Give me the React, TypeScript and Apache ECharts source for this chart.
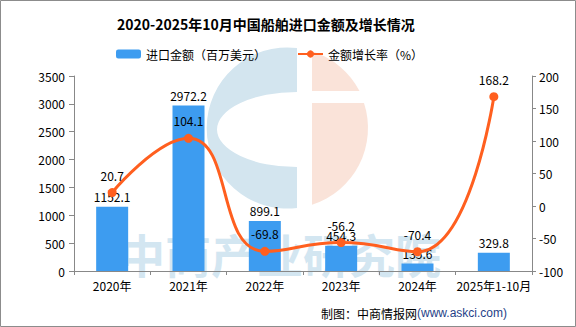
import React, { useEffect, useRef } from "react";
import * as echarts from "echarts";

const categories = ["2020年", "2021年", "2022年", "2023年", "2024年", "2025年1-10月"];
const importValues = [1152.1, 2972.2, 899.1, 454.3, 135.6, 329.8];
const growthRates = [20.7, 104.1, -69.8, -56.2, -70.4, 168.2];

const FONT = "'Noto Sans CJK SC', 'Noto Sans', sans-serif";

echarts.graphic.registerShape(
  "logoBlue",
  echarts.graphic.extendPath(
    "M 297 48.1 A 80.5 80.5 0 1 0 297 207.9 L 297 167 A 80 37.5 0 0 1 297 92 Z",
    {}
  )
);
echarts.graphic.registerShape(
  "logoPeach",
  echarts.graphic.extendPath(
    "M 312 51.3 A 80.5 80.5 0 0 1 359.5 91 L 312 91 Z M 312 103 L 364 103 A 80.5 80.5 0 0 1 312 204.7 Z",
    {}
  )
);

export default function App() {
  const ref = useRef<HTMLDivElement>(null);
  useEffect(() => {
    document.body.style.margin = "0";
    const chart = echarts.init(ref.current!, null, { renderer: "svg" });
    chart.setOption({
      animation: false,
      backgroundColor: "#ffffff",
      textStyle: { fontFamily: FONT },
      title: {
        text: "2020-2025年10月中国船舶进口金额及增长情况",
        left: 112,
        top: 12,
        textStyle: { fontSize: 14, fontWeight: "bold", color: "#000", fontFamily: FONT },
      },
      legend: {
        left: 111,
        top: 43,
        itemWidth: 25,
        itemHeight: 9,
        itemGap: 31,
        textStyle: { fontSize: 12, color: "#000", fontFamily: FONT },
        data: ["进口金额（百万美元）", "金额增长率（%）"],
      },
      graphic: [
        { type: "logoBlue", x: 0, y: 0, z: -10, silent: true, style: { fill: "#d3e5ef" } },
        { type: "logoPeach", x: 0, y: 0, z: -10, silent: true, style: { fill: "#fae3d9" } },
        {
          type: "text",
          x: 119,
          y: 253,
          z: -10,
          silent: true,
          style: {
            text: "中商产业研究院",
            fontSize: 46,
            fontWeight: "bold",
            fontFamily: FONT,
            fill: "#d3e6f1",
            verticalAlign: "middle",
            align: "left",
          },
        },
        {
          type: "text",
          x: 507,
          y: 313,
          style: {
            text: "{a|制图：中商情报网}{b|(www.askci.com)}",
            align: "right",
            verticalAlign: "middle",
            rich: {
              a: { fontSize: 12, fill: "#000", fontFamily: FONT },
              b: { fontSize: 12, fill: "#1f3f88", fontFamily: "'Liberation Sans', sans-serif" },
            },
          },
        },
        {
          type: "rect",
          shape: { x: 0.5, y: 0.5, width: 575, height: 326 },
          style: { fill: "none", stroke: "#8c8c8c", lineWidth: 1 },
          silent: true,
        },
      ],
      grid: { left: 74, right: 44, top: 76, bottom: 56 },
      xAxis: {
        type: "category",
        data: categories,
        boundaryGap: true,
        axisLine: { lineStyle: { color: "#888" } },
        axisTick: { show: true, length: 4, lineStyle: { color: "#888" } },
        axisLabel: { color: "#000", fontSize: 12, margin: 8, interval: 0 },
      },
      yAxis: [
        {
          type: "value",
          min: 0,
          max: 3500,
          interval: 500,
          splitLine: { show: false },
          axisLine: { show: true, lineStyle: { color: "#888" } },
          axisTick: { show: true, length: 5, lineStyle: { color: "#888" } },
          axisLabel: { color: "#000", fontSize: 12, margin: 9, formatter: (v: number) => String(v) },
        },
        {
          type: "value",
          min: -100,
          max: 200,
          interval: 50,
          splitLine: { show: false },
          axisLine: { show: true, lineStyle: { color: "#888" } },
          axisTick: { show: true, length: 4, lineStyle: { color: "#888" } },
          axisLabel: { color: "#000", fontSize: 12, margin: 7, formatter: (v: number) => String(v) },
        },
      ],
      series: [
        {
          name: "进口金额（百万美元）",
          type: "bar",
          data: importValues,
          barWidth: 32,
          itemStyle: { color: "#3d9cf0" },
          label: { show: true, position: "top", color: "#000", fontSize: 12, distance: 4 },
          z: 2,
        },
        {
          name: "金额增长率（%）",
          type: "line",
          yAxisIndex: 1,
          data: growthRates,
          smooth: 0.5,
          symbol: "circle",
          symbolSize: 9,
          lineStyle: { color: "#ff5f1f", width: 3 },
          itemStyle: { color: "#ff5f1f" },
          label: { show: true, position: "top", color: "#000", fontSize: 12, distance: 7 },
          z: 3,
        },
      ],
    });
    return () => chart.dispose();
  }, []);
  return <div ref={ref} style={{ width: 576, height: 327 }} />;
}
